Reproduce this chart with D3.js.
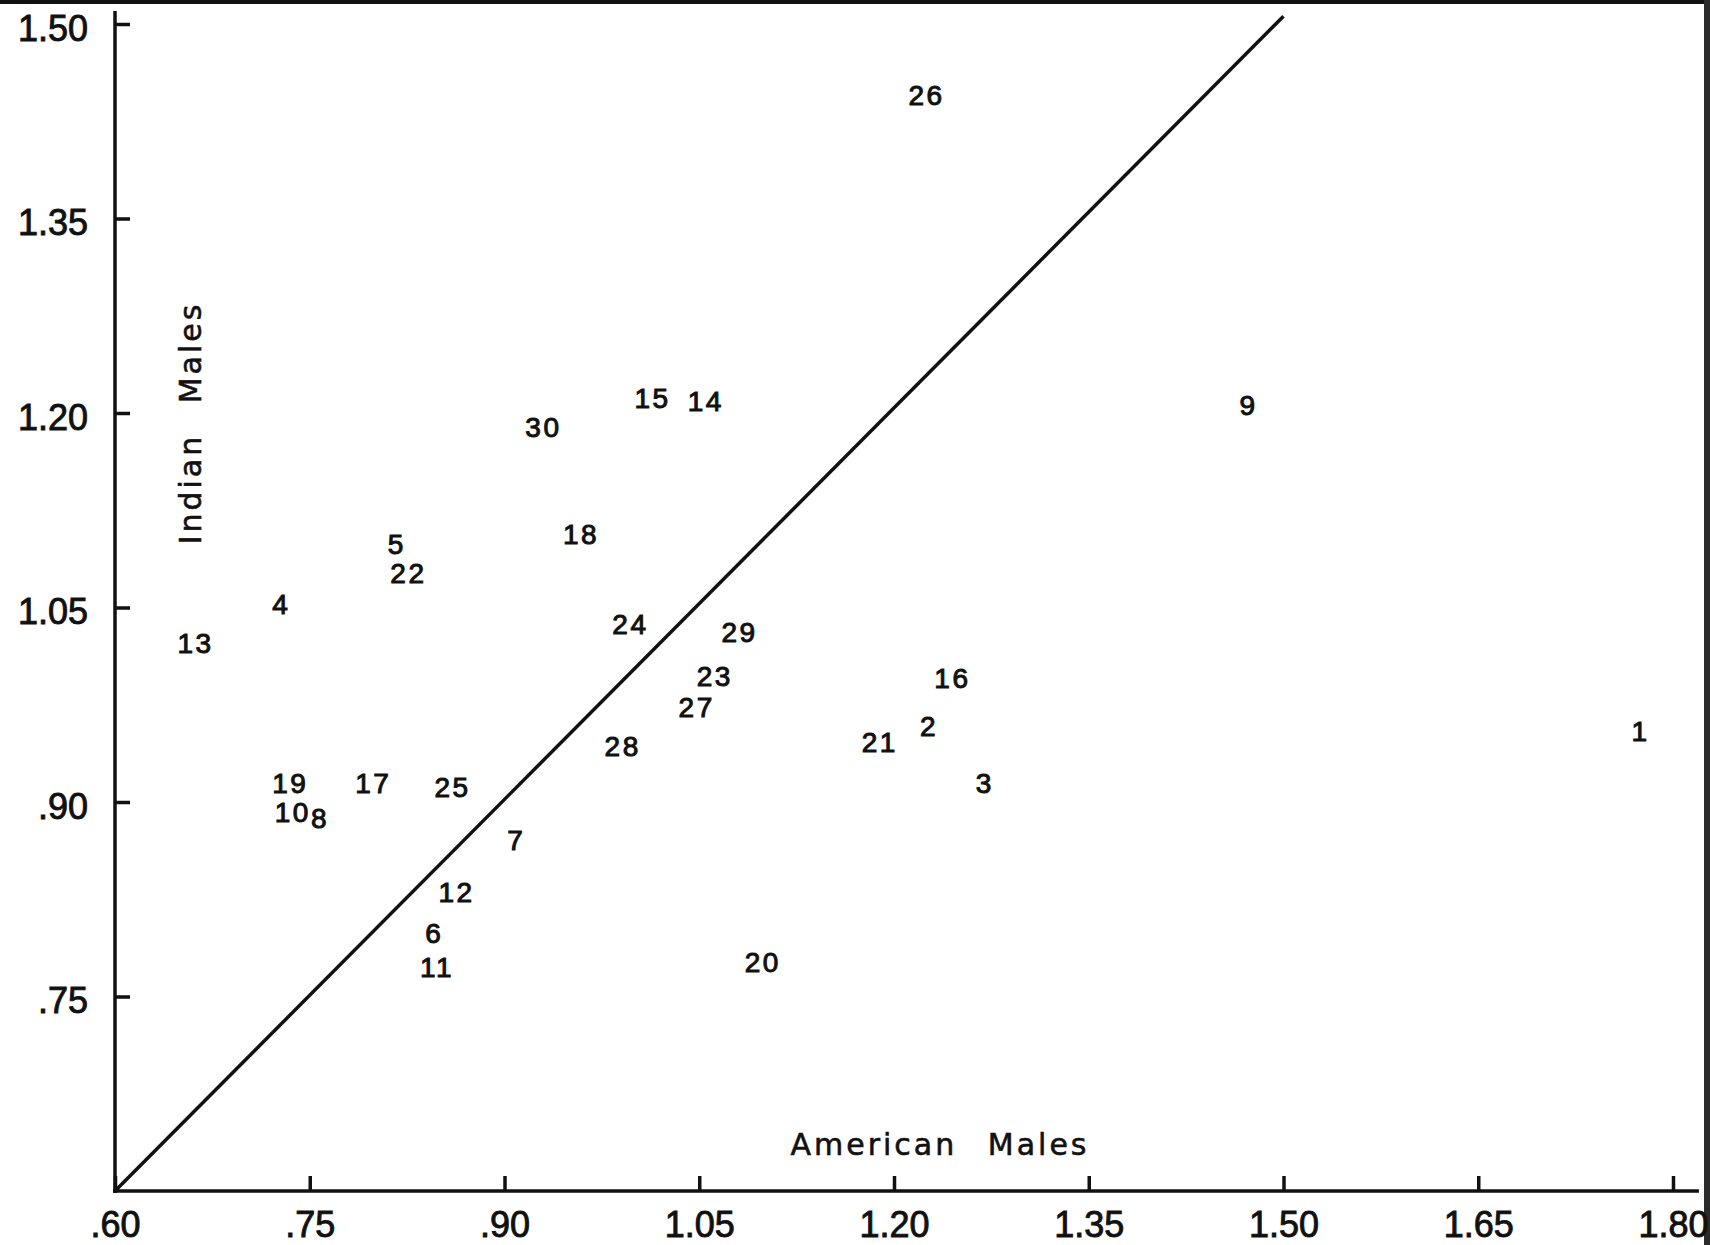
<!DOCTYPE html>
<meta charset="utf-8">
<style>
body { margin: 0; background: #fff; }
svg text { font-family: "Liberation Sans", Arial, sans-serif; fill: #111; }
.axis path { display: none; }
.axis line { stroke: #111; stroke-width: 3.5; }
.axis text { font-size: 36px; stroke: #111; stroke-width: 0.9px; }
.pt { font-size: 28px; letter-spacing: 2.5px; stroke: #111; stroke-width: 1px; }
.title { font-family: "DejaVu Sans", sans-serif !important; font-size: 30px; letter-spacing: 3px; word-spacing: 18px; stroke: #111; stroke-width: 0.6px; }
</style>
<svg width="1710" height="1245"></svg>
<script src="https://cdn.jsdelivr.net/npm/d3@7"></script>
<script>

// group numbers, x = American Males, y = Indian Males
var ids = [1,2,3,4,5,6,7,8,9,10,11,12,13,14,15,16,17,18,19,20,21,22,23,24,25,26,27,28,29,30];
var americanMales = [1.775,1.227,1.270,0.728,0.817,0.846,0.909,0.758,1.473,0.737,
                     0.848,0.863,0.662,1.055,1.014,1.245,0.799,0.959,0.735,1.099,
                     1.189,0.826,1.062,0.997,0.860,1.225,1.048,0.991,1.081,0.930];
var indianMales   = [0.955,0.959,0.915,1.053,1.099,0.799,0.871,0.888,1.206,0.892,
                     0.773,0.831,1.023,1.209,1.212,0.996,0.915,1.107,0.915,0.777,
                     0.946,1.077,0.997,1.037,0.912,1.445,0.973,0.943,1.031,1.189];
var xTicks = [0.60,0.75,0.90,1.05,1.20,1.35,1.50,1.65,1.80];
var yTicks = [0.75,0.90,1.05,1.20,1.35,1.50];
var diagX = [0.60,1.500],
    diagY = [0.60,1.506];

var svg = d3.select("svg");

var x = d3.scaleLinear().domain([0.60,1.80]).range([115,1673]),
    y = d3.scaleLinear().domain([0.60,1.50]).range([1191,24]);

var fmt = function(v){ return d3.format(".2f")(v).replace(/^0/, ""); };

// scan edges of the page
svg.append("rect").attr("x",0).attr("y",0).attr("width",1710).attr("height",4).attr("fill","#111");
svg.append("rect").attr("x",1704).attr("y",0).attr("width",6).attr("height",1245).attr("fill","#2a2a2a");

var g = svg.append("g");

// axis lines, running a bit past the last ticks
g.append("line")
  .attr("x1", x(0.60)).attr("x2", x(0.60))
  .attr("y1", y(0.60)+2).attr("y2", y(1.51))
  .attr("stroke","#111").attr("stroke-width",3.5);
g.append("line")
  .attr("x1", x(0.60)-2).attr("x2", x(1.82))
  .attr("y1", y(0.60)).attr("y2", y(0.60))
  .attr("stroke","#111").attr("stroke-width",3.5);

g.append("g")
  .attr("class","axis axis--x")
  .attr("transform","translate(0," + y(0.60) + ")")
  .call(d3.axisBottom(x).tickValues(xTicks).tickFormat(fmt).tickSize(-15).tickPadding(20));

g.append("g")
  .attr("class","axis axis--y")
  .attr("transform","translate(" + x(0.60) + ",0)")
  .call(d3.axisLeft(y).tickValues(yTicks).tickFormat(fmt).tickSize(-15).tickPadding(27))
  .selectAll("text").attr("dy","0.45em");

// line of equality
g.append("line")
  .attr("x1", x(diagX[0])).attr("y1", y(diagY[0]))
  .attr("x2", x(diagX[1])).attr("y2", y(diagY[1]))
  .attr("stroke","#111").attr("stroke-width",3.5);

// points are drawn as their group numbers
g.selectAll(".pt")
  .data(ids)
  .enter().append("text")
  .attr("class","pt")
  .attr("text-anchor","middle")
  .attr("x", function(d,i){ return x(americanMales[i]); })
  .attr("y", function(d,i){ return y(indianMales[i]); })
  .attr("dy","0.36em")
  .text(function(d){ return d; });

g.append("text")
  .attr("class","title")
  .attr("text-anchor","middle")
  .attr("x", 940).attr("y", 1155)
  .text("American Males");

g.append("text")
  .attr("class","title")
  .attr("text-anchor","middle")
  .attr("transform","translate(201,423) rotate(-90)")
  .text("Indian Males");

</script>
